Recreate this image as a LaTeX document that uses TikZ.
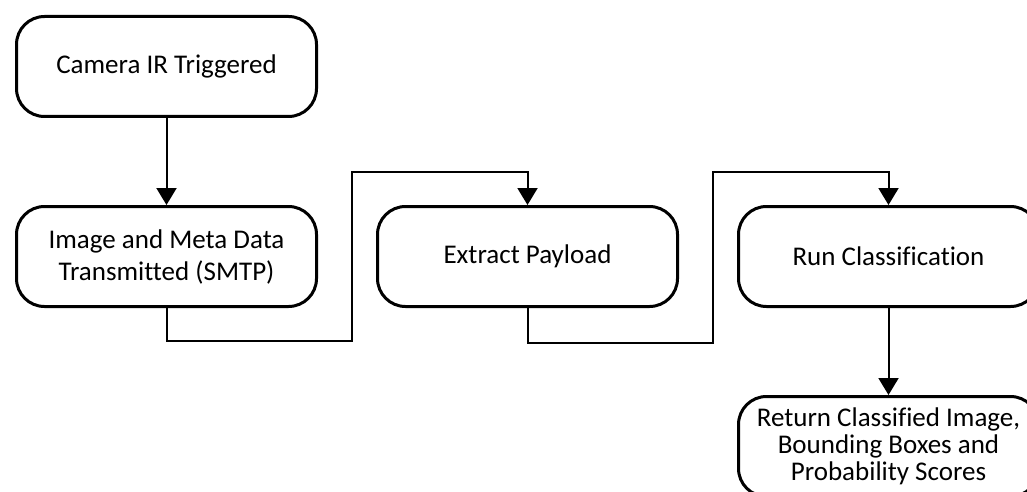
\documentclass[tikz,border=0pt]{standalone}
\usepackage{fontspec}
\setmainfont{Carlito}[Ligatures=NoCommon]
\usetikzlibrary{arrows.meta}

\begin{document}
\begin{tikzpicture}[node distance=361pt,
	stage/.style={draw,line width=3pt,rounded corners=28pt,minimum width=300pt,minimum height=100pt,align=center,font=\fontsize{27}{32}\selectfont},
	flow/.style={line width=2pt,-{Triangle[width=20pt,length=17pt]}}]
			\useasboundingbox (0,0) rectangle (1027pt,-492pt);
			\node (camera) [stage] at (166.5pt,-66.5pt) {Camera IR Triggered};
			\node (image) [stage,below of=camera,node distance=190pt] {Image and Meta Data\\Transmitted (SMTP)};
			\node (extract) [stage,right of=image] {Extract Payload};
			\node (run) [stage,right of=extract] {Run Classification};
			\node (result) [stage,below of=run,node distance=190pt,font=\fontsize{27}{27}\selectfont] {Return Classified Image,\\Bounding Boxes and\\Probability Scores};
			\coordinate (jog1) at (352pt,-172pt);
			\coordinate (jog2) at (713pt,-172pt);
			\draw [flow] (camera) -- (image);
			\draw [flow] (image.south) -- ++(0,-33pt) -| (jog1) -| (extract.north);
			\draw [flow] (extract.south) -- ++(0,-35pt) -| (jog2) -| (run.north);
			\draw [flow] (run) -- (result);
		\end{tikzpicture}
\end{document}
